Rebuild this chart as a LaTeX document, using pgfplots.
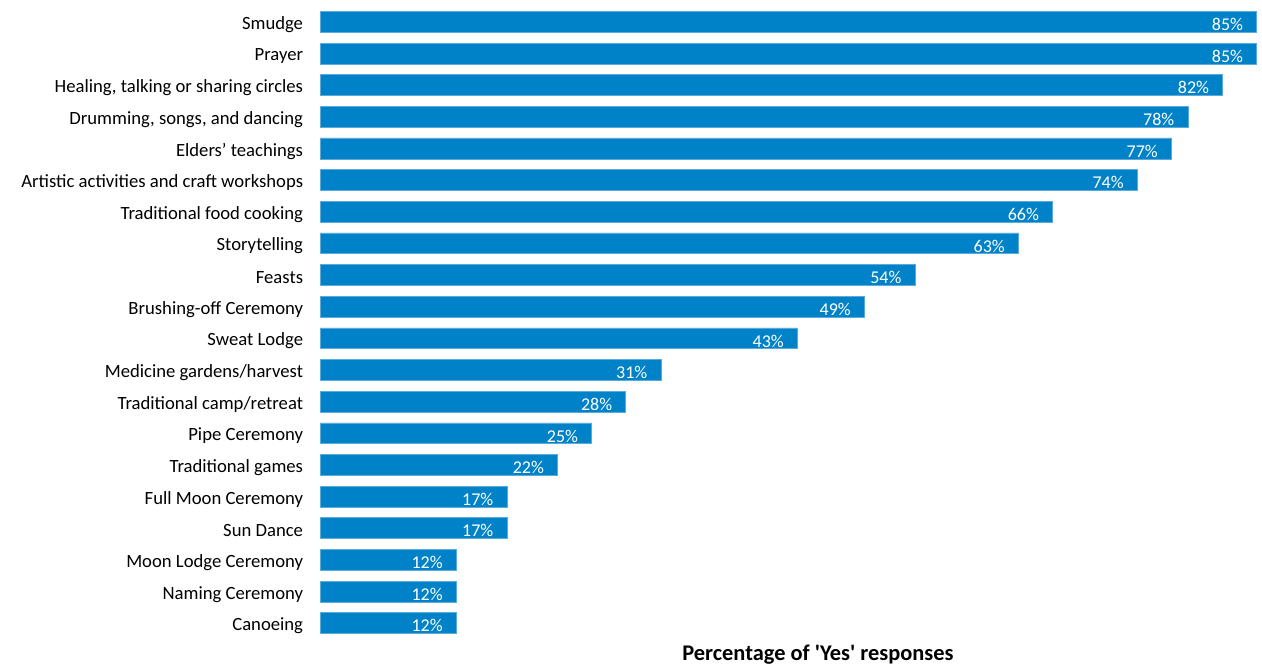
\documentclass[border=0pt]{standalone}
\usepackage{fontspec}
\setmainfont{Carlito}
\usepackage{pgfplots}
\pgfplotsset{compat=1.18}
\usepackage{pgfplotstable}
\definecolor{barblue}{RGB}{0,130,200}
\definecolor{baredge}{RGB}{90,170,220}

\pgfplotstableread[col sep=comma]{
y,x,lab
19,85.15,85
18,85.15,85
17,82.06,82
16,78.9,78
15,77.4,77
14,74.3,74
13,66.6,66
12,63.5,63
11,54.1,54
10,49.5,49
9,43.4,43
8,31.0,31
7,27.8,28
6,24.7,25
5,21.6,22
4,17.0,17
3,17.0,17
2,12.4,12
1,12.4,12
0,12.4,12
}\datatable

\begin{document}%
\begin{tikzpicture}[x=1pt,y=1pt]
\path[use as bounding box] (0pt,0pt) rectangle (946.5pt,498.75pt);
\begin{axis}[
  at={(240pt,19.5pt)}, anchor=south west,
  scale only axis, width=709.5pt, height=474.75pt,
  xmin=0, xmax=86, ymin=-0.5, ymax=19.5,
  xbar, bar width=0.66,
  axis line style={draw=none},
  xtick=\empty,
  ytick={0,...,19},
  major tick style={draw=none},
  yticklabels={Canoeing\hspace{0.25em},Naming Ceremony,Moon Lodge Ceremony,Sun Dance,Full Moon Ceremony,Traditional games\hspace{0.25em},Pipe Ceremony,Traditional camp/retreat,Medicine gardens/harvest,Sweat Lodge,Brushing-off Ceremony,Feasts,Storytelling\hspace{0.25em},Traditional food cooking\hspace{0.25em},Artistic activities and craft workshops\hspace{0.25em},Elders’ teachings\hspace{0.25em},{Drumming, songs, and dancing},{Healing, talking or sharing circles},Prayer,Smudge},
  yticklabel style={font=\fontsize{14}{16}\selectfont, anchor=east, inner sep=0pt, xshift=-8.25pt, yshift=-2pt},
  xlabel={\bfseries Percentage of \textquotesingle Yes\textquotesingle{} responses},
  xlabel style={at={(rel axis cs:0.5264,0)}, anchor=base, yshift=-16pt, inner sep=0pt, font=\fontsize{16.8}{19}\selectfont},
  nodes near coords={\pgfplotspointmeta\%},
  nodes near coords style={anchor=east, inner sep=0pt, xshift=-10pt, yshift=-2pt, text=white, font=\fontsize{13.5}{15}\selectfont},
  point meta=explicit symbolic,
]
\addplot[fill=barblue, draw=baredge, line width=0.5pt] table[x=x, y=y, meta=lab]{\datatable};
\end{axis}
\end{tikzpicture}%
\end{document}
